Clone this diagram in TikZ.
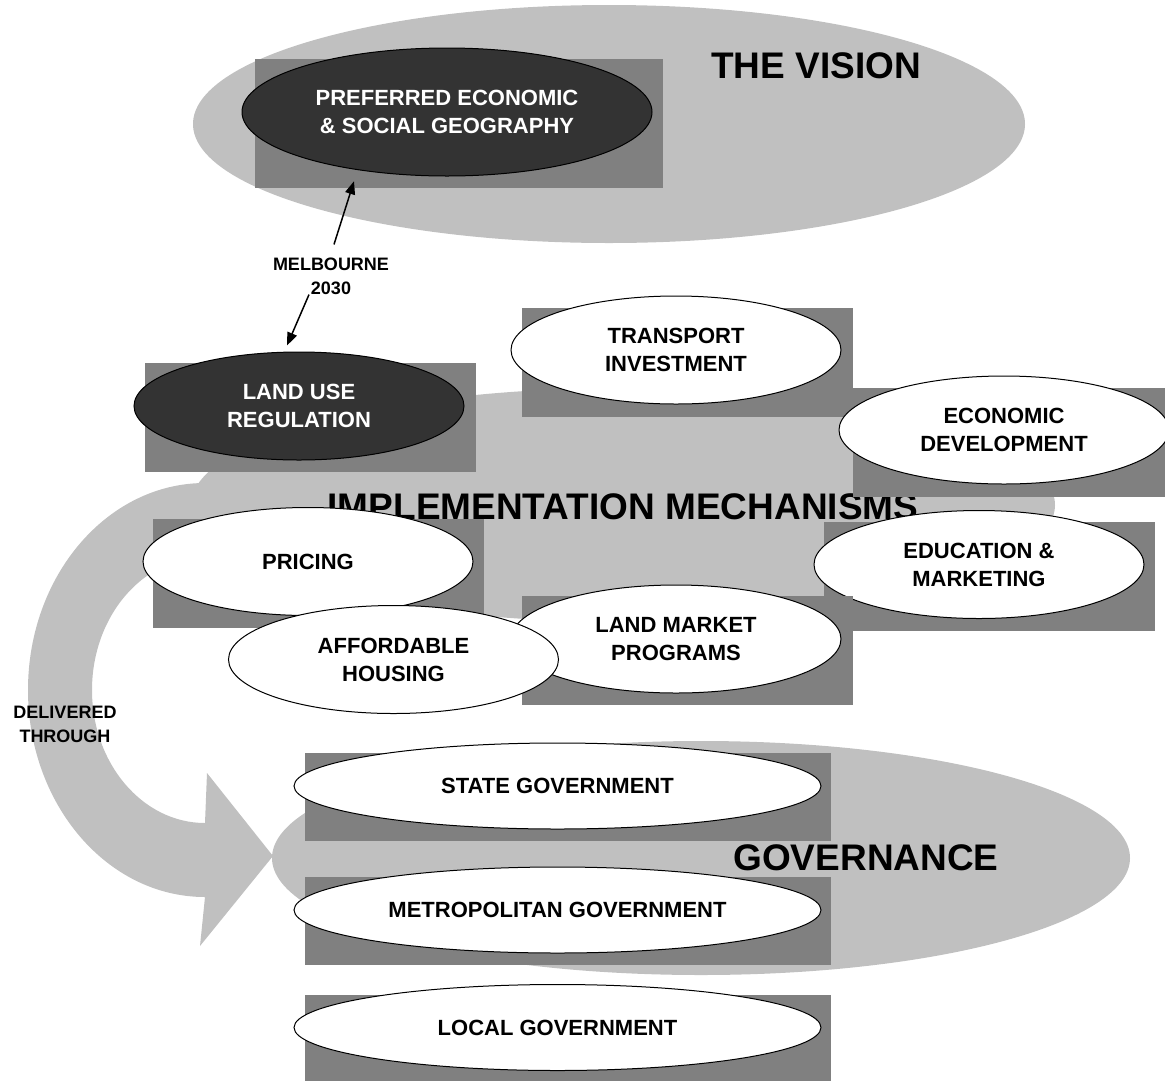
\documentclass[tikz,border=0pt]{standalone}
\usepackage{fontspec}
\setmainfont{Liberation Sans}
\usetikzlibrary{shapes.geometric,arrows.meta}

\definecolor{lightgrey}{RGB}{192,192,192}
\definecolor{midgrey}{RGB}{128,128,128}
\definecolor{darkgrey}{RGB}{51,51,51}

\tikzset{
  backbox/.style={fill=midgrey, inner sep=0pt, minimum width=331pt, minimum height=109pt},
  oval/.style={ellipse, draw, line width=1pt, fill=white, inner sep=0pt,
    minimum width=330pt, minimum height=108pt, align=center,
    font=\fontsize{22}{28}\selectfont\bfseries},
  darkoval/.style={oval, fill=darkgrey, text=white},
  govbox/.style={backbox, minimum width=526pt, minimum height=88pt},
  govoval/.style={oval, minimum width=527pt, minimum height=86pt},
  heading/.style={font=\fontsize{37}{40}\selectfont\bfseries, inner sep=0pt},
  smalllabel/.style={font=\fontsize{18}{24}\selectfont\bfseries, align=center, inner sep=0pt},
  link/.style={line width=1.5pt, -{Triangle[length=13pt,width=10pt]}}
}

\begin{document}
\begin{tikzpicture}[x=1pt, y=1pt]
\useasboundingbox (0,0) rectangle (1165,-1080);

% the three grey areas
\fill[lightgrey] (609,-124) ellipse [x radius=416pt, y radius=119pt];
\fill[lightgrey] (623,-505) ellipse [x radius=432pt, y radius=117pt];
\fill[lightgrey] (701,-858) ellipse [x radius=429pt, y radius=117pt];

% big curved arrow
\fill[lightgrey] (215,-483) -- (205,-483)
  arc[start angle=90, end angle=270, x radius=177pt, y radius=207pt]
  -- (200,-946) -- (273,-856) -- (207,-773) -- (205,-823)
  arc[start angle=270, end angle=90, x radius=113pt, y radius=133pt]
  -- (260,-557) -- (260,-483) -- cycle;

\node[heading, anchor=base] (vision) at (816,-78) {THE VISION};
\node[heading, anchor=base] (impl) at (623,-519) {IMPLEMENTATION MECHANISMS};
\node[heading, anchor=base] (gov) at (866,-870) {GOVERNANCE};

% vision
\node[backbox, minimum width=408pt, minimum height=129pt] (pref-bg) at (459,-123.5) {};
\node[darkoval, minimum width=410pt, minimum height=128pt] (pref) at (447,-112) {PREFERRED ECONOMIC\\\& SOCIAL GEOGRAPHY};

% mechanisms
\node[backbox] (landuse-bg) at (310.5,-417.5) {};
\node[darkoval] (landuse) at (299,-406) {LAND USE\\REGULATION};

\node[backbox] (transport-bg) at (687.5,-362.5) {};
\node[oval] (transport) at (676,-350) {TRANSPORT\\INVESTMENT};

\node[backbox] (economic-bg) at (1018.5,-442.5) {};
\node[oval] (economic) at (1004,-430) {ECONOMIC\\DEVELOPMENT};

\node[backbox] (pricing-bg) at (318.5,-573) {};
\node[oval] (pricing) at (308,-561.5) {PRICING};

\node[backbox] (education-bg) at (989,-576.5) {};
\node[oval] (education) at (979,-564.5) {EDUCATION \&\\MARKETING};

\node[backbox] (landmarket-bg) at (687.5,-650.5) {};
\node[oval] (landmarket) at (676,-639) {LAND MARKET\\PROGRAMS};

\node[oval] (affordable) at (393.5,-659.5) {AFFORDABLE\\HOUSING};

% governance
\foreach \nm/\yy/\txt in {state/786/STATE GOVERNMENT,
                          metro/910/METROPOLITAN GOVERNMENT,
                          local/1027.5/LOCAL GOVERNMENT}
{
  \node[govbox] (\nm-bg) at (568,-\yy-11) {};
  \node[govoval] (\nm) at (557.5,-\yy) {\txt};
}

% labels and links
\node[smalllabel] (melb) at (331,-276) {MELBOURNE\\2030};
\node[smalllabel] (delivered) at (65,-724) {DELIVERED\\THROUGH};

\draw[link] ([shift={(3,13)}]melb.north) -- ([shift={(-105,7)}]pref-bg.south);
\draw[link] ([shift={(-22,0)}]melb.south) -- ([shift={(-12,6)}]landuse.north);
\end{tikzpicture}
\end{document}
